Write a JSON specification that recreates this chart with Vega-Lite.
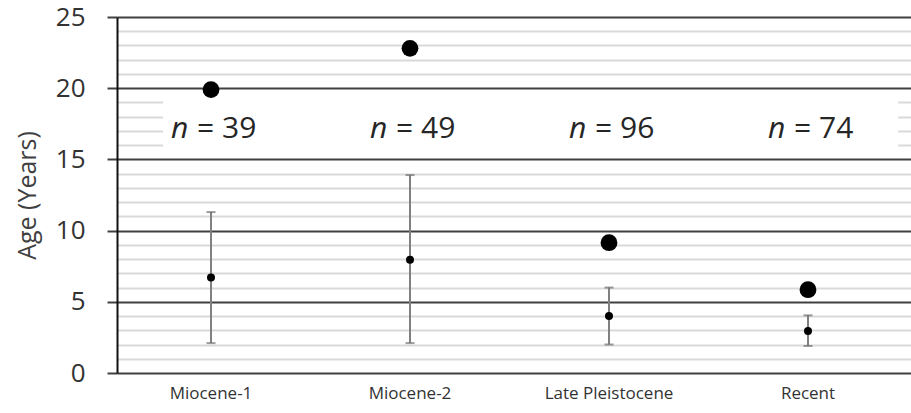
{
  "$schema": "https://vega.github.io/schema/vega-lite/v6.json",
  "width": 794,
  "height": 356,
  "autosize": "none",
  "padding": {"left": 117, "top": 17, "right": 0, "bottom": 40},
  "background": "white",
  "config": {
    "view": {"stroke": null},
    "font": "Open Sans",
    "style": {"guide-title": {"fontSize": 25, "fontWeight": "normal", "fill": "#404040", "font": "Open Sans"}},
    "axisX": {"domain": false, "ticks": false, "grid": false, "labelAngle": 0, "labelFontSize": 17, "labelColor": "#333333", "labelPadding": 12},
    "axisY": {
      "tickCount": 25,
      "titleFontSize": 25,
      "titleFontWeight": "normal",
      "titleColor": "#404040",
      "titlePadding": 15,
      "labelExpr": "datum.value % 5 === 0 ? datum.label : ''",
      "labelFontSize": 26,
      "labelColor": "#333333",
      "labelPadding": 22,
      "tickSize": 10,
      "tickWidth": 2,
      "tickColor": {"condition": {"test": "datum.value % 5 === 0", "value": "#404040"}, "value": "transparent"},
      "grid": true,
      "gridColor": {"condition": {"test": "datum.value % 5 === 0", "value": "#404040"}, "value": "#d9d9d9"},
      "gridWidth": 2,
      "domainColor": "#111111",
      "domainWidth": 2
    }
  },
  "data": {"values": [
    {"period": "Miocene-1", "max": 19.9, "mean": 6.7, "lo": 2.1, "hi": 11.3, "n": 39},
    {"period": "Miocene-2", "max": 22.8, "mean": 7.95, "lo": 2.1, "hi": 13.9, "n": 49},
    {"period": "Late Pleistocene", "max": 9.15, "mean": 4.0, "lo": 2.0, "hi": 6.0, "n": 96},
    {"period": "Recent", "max": 5.85, "mean": 2.95, "lo": 1.9, "hi": 4.05, "n": 74}
  ]},
  "layer": [
    {
      "data": {"values": [{"x0": 0.058, "x1": 0.984, "y0": 15.35, "y1": 19.65}]},
      "mark": {"type": "rect", "color": "white"},
      "encoding": {
        "x": {"field": "x0", "type": "quantitative", "scale": {"domain": [0, 1]}, "axis": null},
        "x2": {"field": "x1"},
        "y": {"field": "y0", "type": "quantitative", "title": "Age (Years)", "scale": {"domain": [0, 25], "nice": false}},
        "y2": {"field": "y1"}
      }
    },
    {
      "layer": [
        {
          "mark": {"type": "rule", "color": "#808080", "strokeWidth": 2},
          "encoding": {
            "x": {"field": "period", "type": "nominal", "title": null,
              "scale": {"type": "band", "domain": ["Miocene-1", "Miocene-2", "Late Pleistocene", "Recent"], "range": [-5.5, 790.5], "paddingInner": 0, "paddingOuter": 0}
            },
            "y": {"field": "lo", "type": "quantitative", "title": "Age (Years)"},
            "y2": {"field": "hi"}
          }
        },
        {
          "mark": {"type": "tick", "color": "#707070", "thickness": 2, "size": 9, "orient": "horizontal"},
          "encoding": {
            "x": {"field": "period", "type": "nominal", "title": null},
            "y": {"field": "lo", "type": "quantitative", "title": "Age (Years)"}
          }
        },
        {
          "mark": {"type": "tick", "color": "#707070", "thickness": 2, "size": 9, "orient": "horizontal"},
          "encoding": {
            "x": {"field": "period", "type": "nominal", "title": null},
            "y": {"field": "hi", "type": "quantitative", "title": "Age (Years)"}
          }
        },
        {
          "mark": {"type": "circle", "color": "black", "opacity": 1, "size": 64},
          "encoding": {
            "x": {"field": "period", "type": "nominal", "title": null},
            "y": {"field": "mean", "type": "quantitative", "title": "Age (Years)"}
          }
        },
        {
          "mark": {"type": "circle", "color": "black", "opacity": 1, "size": 283},
          "encoding": {
            "x": {"field": "period", "type": "nominal", "title": null},
            "y": {"field": "max", "type": "quantitative", "title": "Age (Years)"}
          }
        },
        {
          "mark": {"type": "text", "text": "n", "fontStyle": "italic", "fontSize": 30, "align": "left", "baseline": "middle", "dx": -40, "color": "#262626"},
          "encoding": {
            "x": {"field": "period", "type": "nominal", "title": null},
            "y": {"datum": 17.1, "type": "quantitative", "title": "Age (Years)"}
          }
        },
        {
          "mark": {"type": "text", "text": "=", "fontSize": 30, "align": "left", "baseline": "middle", "dx": -14, "color": "#262626"},
          "encoding": {
            "x": {"field": "period", "type": "nominal", "title": null},
            "y": {"datum": 17.1, "type": "quantitative", "title": "Age (Years)"}
          }
        },
        {
          "mark": {"type": "text", "fontSize": 30, "align": "left", "baseline": "middle", "dx": 11, "color": "#262626"},
          "encoding": {
            "x": {"field": "period", "type": "nominal", "title": null},
            "y": {"datum": 17.1, "type": "quantitative", "title": "Age (Years)"},
            "text": {"field": "n", "type": "quantitative"}
          }
        }
      ]
    }
  ],
  "resolve": {"scale": {"x": "independent"}}
}
